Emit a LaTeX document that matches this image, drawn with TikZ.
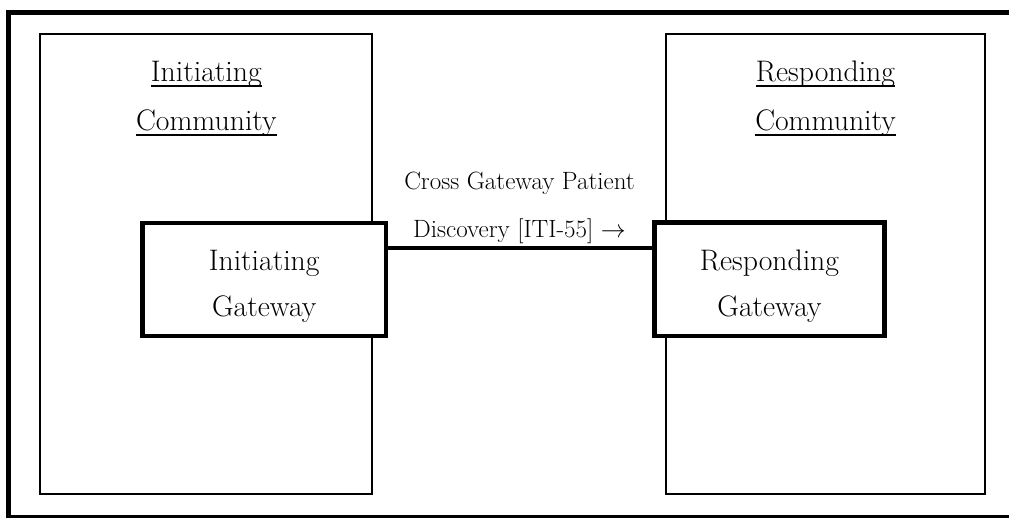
\documentclass[tikz,border=0pt]{standalone}
\usetikzlibrary{calc}
\newcommand{\myul}[1]{\leavevmode\setbox0\hbox{#1}\rlap{\rule[-5pt]{\wd0}{2pt}}\box0}
\tikzset{
  frame/.style={draw=black, line width=5pt},
  community/.style={draw=black, line width=2pt, inner sep=0pt, outer sep=0pt},
  gateway/.style={draw=black, fill=white, line width=4.5pt, inner sep=0pt},
  bigtxt/.style={anchor=base, inner sep=0pt, font=\fontsize{29.7}{36}\selectfont},
  lbltxt/.style={anchor=base, inner sep=0pt, font=\fontsize{25}{30}\selectfont},
  conn/.style={draw=black, line width=4pt}
}
\begin{document}
\begin{tikzpicture}[x=1pt, y=-1pt]
\useasboundingbox (0,0) rectangle (1009,518);
\clip (0,0) rectangle (1009,518);
\draw[frame] (8.5,12.5) rectangle (1014,517.8);
% communities
\node[community, minimum width=332pt, minimum height=459.4pt] (ic) at (206.3,264) {};
\node[community, minimum width=319pt, minimum height=459.4pt] (rc) at (825.5,264) {};
\node[bigtxt] (ict1) at (206.3,82) {\myul{Initiating}};
\node[bigtxt] (ict2) at (206.3,131) {\myul{Community}};
\node[bigtxt] (rct1) at (825.5,82) {\myul{Responding}};
\node[bigtxt] (rct2) at (825.5,131) {\myul{Community}};
% gateways
\node[gateway, minimum width=243.3pt, minimum height=113pt] (ig) at (264.2,279.5) {};
\node[gateway, minimum width=230pt, minimum height=113.5pt] (rg) at (769.5,279.5) {};
\node[bigtxt] (igt1) at (264.2,270.7) {Initiating};
\node[bigtxt] (igt2) at (264.2,316.7) {Gateway};
\node[bigtxt] (rgt1) at (769.5,270.7) {Responding};
\node[bigtxt] (rgt2) at (769.5,316.7) {Gateway};
% connector
\draw[conn] (ig.east |- 0,248) -- (rg.west |- 0,248);
\node[lbltxt] (l1) at (519.5,190) {Cross Gateway Patient};
\node[lbltxt] (l2) at (519.5,238) {Discovery [ITI-55] $\rightarrow$};
\end{tikzpicture}
\end{document}
